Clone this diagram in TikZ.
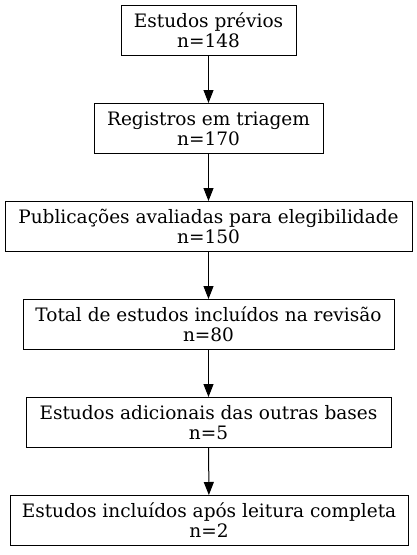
\documentclass[tikz,border=0pt]{standalone}
\usepackage{fontspec}
\setmainfont{DejaVu Serif}
\usetikzlibrary{arrows.meta}
\begin{document}
\begin{tikzpicture}[x=1pt,y=-1pt,
  box/.style={draw, line width=1pt, minimum height=50pt, inner sep=0pt, align=center,
    font=\fontsize{18.5}{20}\selectfont},
  conn/.style={line width=1pt, -{Triangle[length=13pt,width=10pt]}}]
\useasboundingbox (0,0) rectangle (417,555);
\node[box, minimum width=175pt] (a) at (208.5,30.5) {Estudos prévios\\n=148};
\node[box, minimum width=229pt] (b) at (208.5,128.5) {Registros em triagem\\n=170};
\node[box, minimum width=407pt] (c) at (208.5,226.5) {Publicações avaliadas para elegibilidade\\n=150};
\node[box, minimum width=371pt] (d) at (208.5,324.5) {Total de estudos incluídos na revisão\\n=80};
\node[box, minimum width=365pt] (e) at (208.5,422.5) {Estudos adicionais das outras bases\\n=5};
\node[box, minimum width=398pt] (f) at (209,520.5) {Estudos incluídos após leitura completa\\n=2};
\draw[conn] (a) -- (b);
\draw[conn] (b) -- (c);
\draw[conn] (c) -- (d);
\draw[conn] (d) -- (e);
\draw[conn] (e) -- (f);
\end{tikzpicture}
\end{document}
